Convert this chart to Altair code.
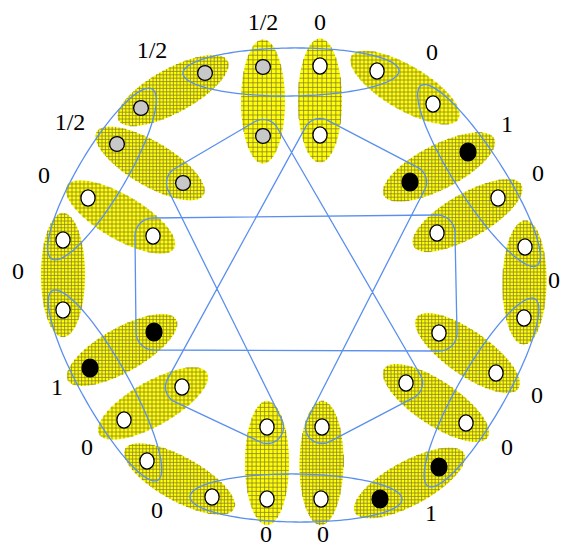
import math
import numpy as np
import pandas as pd
import altair as alt

# ---------------- data ----------------
# 18 yellow hyperedges, two vertices each (diagram units, y grows downwards)
edge_x1 = [263, 320, 377, 468, 498, 525, 439, 406, 439, 322, 267, 212, 124, 90, 63, 88, 117, 141]
edge_y1 = [67, 66, 71, 152, 198, 247, 333, 383, 467, 427, 427, 497, 420, 368, 310, 198, 144, 108]
edge_x2 = [263, 320, 433, 410, 437, 524, 496, 466, 380, 321, 267, 147, 182, 154, 63, 153, 183, 205]
edge_y2 = [136, 135, 104, 182, 233, 318, 373, 423, 499, 499, 499, 461, 387, 332, 240, 236, 183, 73]
# value written next to each yellow hyperedge
edge_value = ["1/2", "0", "0", "1", "0", "0", "0", "0", "1", "0", "0", "0", "0", "1", "0", "0", "1/2", "1/2"]
label_x = [263, 320, 432, 507, 538, 554, 537, 507, 431, 323, 266, 157, 87, 57, 18, 44, 70, 152]
label_y = [30, 30, 60, 132, 181, 288, 403, 455, 521, 542, 542, 518, 455, 395, 279, 183, 130, 58]
# density of the cross-hatch pattern of each yellow hyperedge
hatch_step = [4.6, 4.6, 4.0, 3.4, 3.4, 3.4, 3.4, 3.4, 3.4, 3.4, 4.2, 3.4, 4.0, 3.4, 3.4, 4.0, 3.4, 3.4]

# blue hyperedges (vertex ids: 2k and 2k+1 belong to yellow edge k)
ring_edges = [[35, 0, 2, 4], [5, 6, 8, 10], [11, 13, 15, 16],
              [17, 19, 21, 22], [23, 24, 26, 28], [29, 30, 32, 34]]
rect_edge = [31, 9, 12, 27]
star_edge = [1, 33, 20, 25, 3, 7, 18, 14]

kind_of = {"1/2": "half", "0": "zero", "1": "one"}

# ---------------- geometry helpers ----------------
vx, vy, vk = [], [], []
for k in range(len(edge_x1)):
    for (x, y) in [(edge_x1[k], edge_y1[k]), (edge_x2[k], edge_y2[k])]:
        vx.append(x); vy.append(y); vk.append(kind_of[edge_value[k]])
V = np.array(list(zip(vx, vy)), float)


def emat(a, b, th):
    c, s = math.cos(th), math.sin(th)
    return (c * c / a**2 + s * s / b**2, c * s * (1 / a**2 - 1 / b**2), s * s / a**2 + c * c / b**2)


def chord_y(m, dx):
    m11, m12, m22 = m
    disc = max(m12 * m12 * dx * dx - m22 * (m11 * dx * dx - 1), 0.0)
    r = math.sqrt(disc)
    return (-m12 * dx - r) / m22, (-m12 * dx + r) / m22


def chord_x(m, dy):
    m11, m12, m22 = m
    disc = max(m12 * m12 * dy * dy - m11 * (m22 * dy * dy - 1), 0.0)
    r = math.sqrt(disc)
    return (-m12 * dy - r) / m11, (-m12 * dy + r) / m11


area_rows, hatch_rows = [], []
A_SEMI, B_SEMI = 62.0, 22.0
for k in range(len(edge_x1)):
    p, q = V[2 * k], V[2 * k + 1]
    cx, cy = (p + q) / 2
    th = math.atan2(q[1] - p[1], q[0] - p[0])
    m = emat(A_SEMI, B_SEMI, th)
    hx = math.sqrt((A_SEMI * math.cos(th))**2 + (B_SEMI * math.sin(th))**2)
    hy = math.sqrt((A_SEMI * math.sin(th))**2 + (B_SEMI * math.cos(th))**2)
    for i in range(81):
        dx = -hx * math.cos(math.pi * i / 80)
        lo, hi = chord_y(m, dx)
        area_rows.append({"e": k, "x": cx + dx, "y": cy + lo, "y2": cy + hi})
    s = hatch_step[k]
    for gx in np.arange(math.ceil((cx - hx) / s) * s, cx + hx, s):
        lo, hi = chord_y(m, gx - cx)
        if hi - lo > 0.5:
            hatch_rows.append({"x": gx, "x2": gx, "y": cy + lo, "y2": cy + hi})
    for gy in np.arange(math.ceil((cy - hy) / s) * s, cy + hy, s):
        lo, hi = chord_x(m, gy - cy)
        if hi - lo > 0.5:
            hatch_rows.append({"x": cx + lo, "x2": cx + hi, "y": gy, "y2": gy})


def rounded_path(ids, r, n_arc=24):
    P = V[ids]
    n = len(P)
    t = []
    for i in range(n):
        a = P[i] - P[i - 1]
        b = P[(i + 1) % n] - P[i]
        t.append(1 if a[0] * b[1] - a[1] * b[0] > 0 else -1)
    o = [-s for s in t]
    tin, tout = [None] * n, [None] * n
    for i in range(n):
        j = (i + 1) % n
        d = P[j] - P[i]
        L = math.hypot(d[0], d[1])
        u = d / L
        nl = np.array([-u[1], u[0]])
        c = (o[i] - o[j]) * r / L
        mm = c * u + math.sqrt(1 - c * c) * nl
        tout[i] = P[i] + o[i] * r * mm
        tin[j] = P[j] + o[j] * r * mm
    pts = []
    for i in range(n):
        a0 = math.atan2(tin[i][1] - P[i][1], tin[i][0] - P[i][0])
        a1 = math.atan2(tout[i][1] - P[i][1], tout[i][0] - P[i][0])
        if t[i] > 0:
            delta = (a1 - a0) % (2 * math.pi)
        else:
            delta = -((a0 - a1) % (2 * math.pi))
        for kk in range(n_arc + 1):
            ang = a0 + delta * kk / n_arc
            pts.append((P[i][0] + r * math.cos(ang), P[i][1] + r * math.sin(ang)))
    pts.append(pts[0])
    return pts


curve_rows = []
cid = 0
for ids in ring_edges:
    p, q = V[ids[0]], V[ids[-1]]
    cx, cy = (p + q) / 2
    th = math.atan2(q[1] - p[1], q[0] - p[0])
    a = math.hypot(*(q - p)) / 2 + 22
    b = 24.0
    for i in range(161):
        ph = 2 * math.pi * i / 160
        ex, ey = a * math.cos(ph), b * math.sin(ph)
        curve_rows.append({"c": cid, "o": i,
                           "x": cx + ex * math.cos(th) - ey * math.sin(th),
                           "y": cy + ex * math.sin(th) + ey * math.cos(th)})
    cid += 1
for ids, r in [(rect_edge, 18.0), (star_edge, 16.5)]:
    for i, (x, y) in enumerate(rounded_path(ids, r)):
        curve_rows.append({"c": cid, "o": i, "x": x, "y": y})
    cid += 1

area_df = pd.DataFrame(area_rows)
hatch_df = pd.DataFrame(hatch_rows)
curve_df = pd.DataFrame(curve_rows)
vert_df = pd.DataFrame({"x": vx, "y": vy, "kind": vk})
label_df = pd.DataFrame({"x": label_x, "y": label_y, "t": edge_value})

# ---------------- chart ----------------
xs = alt.Scale(domain=[8, 560], nice=False, zero=False)
ys = alt.Scale(domain=[8, 546], nice=False, zero=False, reverse=True)


def X(f="x"):
    return alt.X(f"{f}:Q", scale=xs, axis=None)


def Y(f="y"):
    return alt.Y(f"{f}:Q", scale=ys, axis=None, stack=None)


yellow = alt.Chart(area_df).mark_area(color="#ffff00", fill="#ffff00", opacity=1, interpolate="linear").encode(
    x=X(), y=Y(), y2="y2:Q", detail="e:N")

hatch = alt.Chart(hatch_df).mark_rule(color="#857d3a", strokeWidth=0.9, opacity=0.85).encode(
    x=X(), x2="x2:Q", y=Y(), y2="y2:Q")

blue = alt.Chart(curve_df).mark_line(color="#5a8ff0", strokeWidth=1.3).encode(
    x=X(), y=Y(), detail="c:N", order="o:Q")

circ = "M-1,0A1,1 0 1,0 1,0A1,1 0 1,0 -1,0Z"
ell_w = "M-0.877,0A0.877,1 0 1,0 0.877,0A0.877,1 0 1,0 -0.877,0Z"
ell_b = "M-0.9,0A0.9,1 0 1,0 0.9,0A0.9,1 0 1,0 -0.9,0Z"

v_half = alt.Chart(vert_df).transform_filter(alt.datum.kind == "half").mark_point(
    shape=circ, size=219, filled=True, fill="#c8c8c8", stroke="#000000", strokeWidth=1.3, opacity=1
).encode(x=X(), y=Y())
v_zero = alt.Chart(vert_df).transform_filter(alt.datum.kind == "zero").mark_point(
    shape=ell_w, size=262, filled=True, fill="#ffffff", stroke="#000000", strokeWidth=1.3, opacity=1
).encode(x=X(), y=Y())
v_one = alt.Chart(vert_df).transform_filter(alt.datum.kind == "one").mark_point(
    shape=ell_b, size=313, filled=True, fill="#000000", stroke="#000000", strokeWidth=1.3, opacity=1
).encode(x=X(), y=Y())

labels = alt.Chart(label_df).mark_text(
    font="Liberation Serif", fontSize=24, color="#000000", baseline="alphabetic", align="center"
).encode(x=X(), y=Y(), text="t:N")

chart = alt.layer(yellow, hatch, blue, v_half, v_zero, v_one, labels).properties(
    width=552, height=538, padding=0, autosize="none", background="white"
).configure_view(stroke=None)

chart.save("out.html", embed_options={"renderer": "svg", "actions": False})
